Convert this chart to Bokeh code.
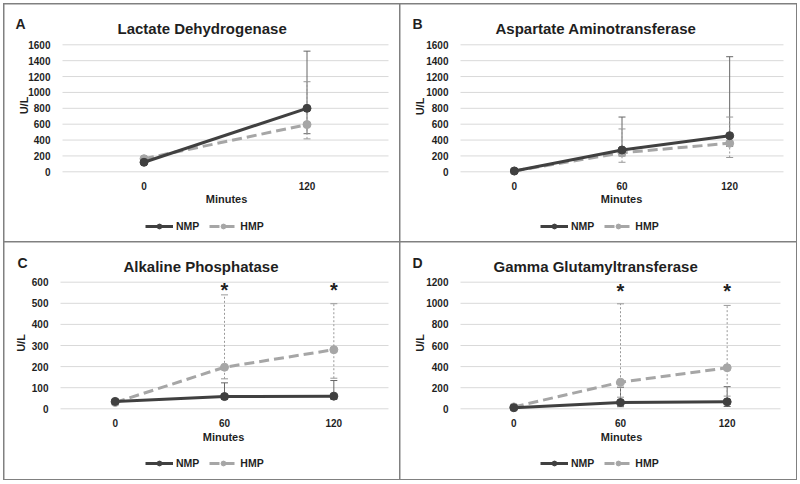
import math
from bokeh.plotting import figure
from bokeh.models import (ColumnDataSource, Whisker, TeeHead, FixedTicker, Range1d,
                          Label, Legend, LegendItem, Spacer)
from bokeh.layouts import column, row
from bokeh.embed import file_html
from bokeh.resources import INLINE
from bokeh.core.properties import value

FONT = "Liberation Sans"
NMP_COLOR = "#404040"
HMP_COLOR = "#a6a6a6"
TEXT_COLOR = "#1f1f1f"

# ---- Panel A: Lactate Dehydrogenase ----
a_minutes = ["0", "120"]
a_nmp = [120, 800]
a_nmp_upper = [130, 1520]
a_nmp_lower = [110, 480]
a_hmp = [165, 595]
a_hmp_upper = [175, 1135]
a_hmp_lower = [155, 415]
a_yticks = [0, 200, 400, 600, 800, 1000, 1200, 1400, 1600]

# ---- Panel B: Aspartate Aminotransferase ----
b_minutes = ["0", "60", "120"]
b_nmp = [10, 275, 455]
b_nmp_upper = [15, 690, 1450]
b_nmp_lower = [5, 200, 320]
b_hmp = [10, 240, 360]
b_hmp_upper = [15, 540, 690]
b_hmp_lower = [5, 120, 180]
b_yticks = [0, 200, 400, 600, 800, 1000, 1200, 1400, 1600]

# ---- Panel C: Alkaline Phosphatase ----
c_minutes = ["0", "60", "120"]
c_nmp = [35, 58, 60]
c_nmp_upper = [44, 123, 134]
c_nmp_lower = [26, 45, 45]
c_hmp = [30, 197, 280]
c_hmp_upper = [38, 540, 498]
c_hmp_lower = [20, 142, 145]
c_yticks = [0, 100, 200, 300, 400, 500, 600]
c_star_minutes = ["60", "120"]
c_star_y = [562, 562]

# ---- Panel D: Gamma Glutamyltransferase ----
d_minutes = ["0", "60", "120"]
d_nmp = [10, 60, 66]
d_nmp_upper = [15, 205, 210]
d_nmp_lower = [5, 20, 22]
d_hmp = [18, 252, 389]
d_hmp_upper = [25, 995, 980]
d_hmp_lower = [10, 110, 120]
d_yticks = [0, 200, 400, 600, 800, 1000, 1200]
d_star_minutes = ["60", "120"]
d_star_y = [1112, 1112]

labels = ["NMP", "HMP"]


def make_panel(letter, title, minutes, nmp, nmp_up, nmp_lo, hmp, hmp_up, hmp_lo,
               yticks, star_x, star_y, g):
    W, H = g["w"], g["h"]
    n = len(minutes)
    ymax = yticks[-1]
    unit = (g["R"] - g["L"]) / n
    ppu = (g["B"] - g["T"]) / ymax
    x_start = -0.5 - g["L"] / unit
    x_end = (n - 0.5) + (W - g["R"]) / unit
    y_start = -(H - g["B"]) / ppu
    y_end = ymax + g["T"] / ppu

    def dx(px):
        return x_start + px / unit

    def dy(py):
        return y_end - py / ppu

    p = figure(width=W, height=H, output_backend="svg", toolbar_location=None,
               x_range=Range1d(x_start, x_end), y_range=Range1d(y_start, y_end),
               min_border=0, min_border_left=0, min_border_right=0,
               min_border_top=0, min_border_bottom=0)
    p.outline_line_color = None
    p.background_fill_color = "white"
    p.border_fill_color = "white"
    p.xgrid.visible = False
    p.ygrid.visible = False

    idx = list(range(n))
    # horizontal gridlines over the plot area
    p.segment(x0=[-0.5] * len(yticks), x1=[n - 0.5] * len(yticks), y0=yticks, y1=yticks,
              line_color="#d9d9d9", line_width=1, level="image")

    p.yaxis.ticker = FixedTicker(ticks=yticks)
    p.yaxis.fixed_location = -0.5
    p.xaxis.ticker = FixedTicker(ticks=idx)
    p.xaxis.major_label_overrides = {i: m for i, m in enumerate(minutes)}
    p.xaxis.fixed_location = 0
    for ax in (p.xaxis, p.yaxis):
        ax.axis_line_color = None
        ax.major_tick_line_color = None
        ax.minor_tick_line_color = None
        ax.major_label_text_font = FONT
        ax.major_label_text_font_style = "bold"
        ax.major_label_text_font_size = "10px"
        ax.major_label_text_color = TEXT_COLOR
    p.yaxis.major_label_standoff = 6
    p.xaxis.major_label_standoff = 4

    x_n = [idx[minutes.index(m)] for m in minutes]
    src_n = ColumnDataSource(dict(x=x_n, y=nmp, up=nmp_up, lo=nmp_lo))
    src_h = ColumnDataSource(dict(x=x_n, y=hmp, up=hmp_up, lo=hmp_lo))

    wn = Whisker(source=src_n, base="x", upper="up", lower="lo", dimension="height",
                 line_color="#666666", line_width=1, level="underlay",
                 upper_head=TeeHead(size=7, line_color="#666666", line_width=1),
                 lower_head=TeeHead(size=7, line_color="#666666", line_width=1))
    wh = Whisker(source=src_h, base="x", upper="up", lower="lo", dimension="height",
                 line_color="#999999", line_width=1, line_dash="2 2", level="underlay",
                 upper_head=TeeHead(size=7, line_color="#999999", line_width=1),
                 lower_head=TeeHead(size=7, line_color="#999999", line_width=1))
    p.add_layout(wn)
    p.add_layout(wh)

    lh = p.line("x", "y", source=src_h, line_color=HMP_COLOR, line_width=3, line_dash="10 5")
    sh = p.scatter("x", "y", source=src_h, size=8, fill_color=HMP_COLOR, line_color=HMP_COLOR)
    ln = p.line("x", "y", source=src_n, line_color=NMP_COLOR, line_width=3)
    sn = p.scatter("x", "y", source=src_n, size=8, fill_color=NMP_COLOR, line_color=NMP_COLOR)

    if star_x is not None:
        p.text(x=[minutes.index(m) for m in star_x], y=star_y, text=["*"] * len(star_x),
               text_font=value(FONT), text_font_size="20px", text_font_style="bold",
               text_color=TEXT_COLOR, text_align="center", text_baseline="middle")

    legend = Legend(items=[LegendItem(label=labels[0], renderers=[ln, sn]),
                           LegendItem(label=labels[1], renderers=[lh, sh])],
                    orientation="horizontal", location=(g["leg_x"], g["leg_y"]),
                    border_line_color=None, background_fill_alpha=0,
                    label_text_font=FONT, label_text_font_style="bold",
                    label_text_font_size="10.5px", label_text_color=TEXT_COLOR,
                    glyph_width=28, glyph_height=12, spacing=10, padding=0, margin=0,
                    label_standoff=3)
    p.add_layout(legend)

    p.add_layout(Label(x=dx(g["lx"]), y=dy(g["ly"]), text=letter, text_font=FONT,
                       text_font_style="bold", text_font_size="14px",
                       text_color=TEXT_COLOR, text_baseline="alphabetic"))
    p.add_layout(Label(x=dx(g["tx"]), y=dy(g["ty"]), text=title, text_font=FONT,
                       text_font_style="bold", text_font_size="15px",
                       text_color=TEXT_COLOR, text_align="left",
                       text_baseline="alphabetic"))
    p.add_layout(Label(x=dx(g["ux"]), y=dy(g["uy"]), text="U/L", text_font=FONT,
                       text_font_style="bold", text_font_size="11px",
                       text_color=TEXT_COLOR, text_align="center", text_baseline="middle",
                       angle=math.pi / 2))
    p.add_layout(Label(x=dx(g["mx"]), y=dy(g["my"]), text="Minutes", text_font=FONT,
                       text_font_style="bold", text_font_size="11px",
                       text_color=TEXT_COLOR, text_align="center", text_baseline="middle"))
    p.styles = {"outline": "2px solid #808080", "outline-offset": "-1px"}
    return p


pA = make_panel("A", "Lactate Dehydrogenase", a_minutes, a_nmp, a_nmp_upper, a_nmp_lower,
                a_hmp, a_hmp_upper, a_hmp_lower, a_yticks, None, None,
                dict(w=396, h=238, L=58, R=384, T=40.3, B=167.3,
                     lx=11, ly=19, tx=113, ty=24, ux=19, uy=101, mx=222, my=194,
                     leg_x=141, leg_y=10))
pB = make_panel("B", "Aspartate Aminotransferase", b_minutes, b_nmp, b_nmp_upper, b_nmp_lower,
                b_hmp, b_hmp_upper, b_hmp_lower, b_yticks, None, None,
                dict(w=396, h=238, L=60, R=383, T=40.3, B=167.3,
                     lx=12, ly=19, tx=95, ty=24, ux=19, uy=102, mx=221, my=194,
                     leg_x=140, leg_y=10))
pC = make_panel("C", "Alkaline Phosphatase", c_minutes, c_nmp, c_nmp_upper, c_nmp_lower,
                c_hmp, c_hmp_upper, c_hmp_lower, c_yticks, c_star_minutes, c_star_y,
                dict(w=396, h=237, L=56, R=384, T=39.7, B=166.3,
                     lx=13, ly=20, tx=119, ty=24, ux=16, uy=100.5, mx=219, my=194,
                     leg_x=141, leg_y=10))
pD = make_panel("D", "Gamma Glutamyltransferase", d_minutes, d_nmp, d_nmp_upper, d_nmp_lower,
                d_hmp, d_hmp_upper, d_hmp_lower, d_yticks, d_star_minutes, d_star_y,
                dict(w=396, h=237, L=60, R=380, T=39.7, B=166.3,
                     lx=12, ly=20, tx=93, ty=24, ux=19, uy=100.5, mx=221, my=194,
                     leg_x=140, leg_y=10))

layout = column(Spacer(width=800, height=4),
                row(Spacer(width=4, height=238), pA, pB),
                row(Spacer(width=4, height=237), pC, pD))
open("out.html", "w").write(file_html(layout, INLINE))
